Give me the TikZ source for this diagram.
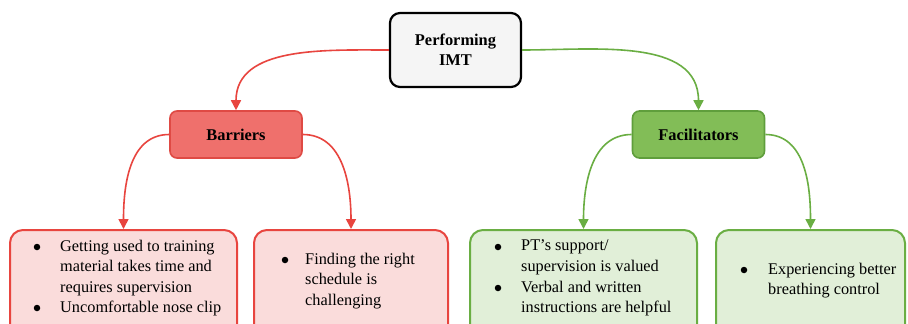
\documentclass[tikz,border=0pt]{standalone}
\usepackage{fontspec}
\setmainfont{Liberation Serif}
\usetikzlibrary{arrows.meta}
\definecolor{redline}{HTML}{E8453F}
\definecolor{redfill}{HTML}{EF706C}
\definecolor{redstroke}{HTML}{DF4A44}
\definecolor{pinkfill}{HTML}{FADCDB}
\definecolor{greenline}{HTML}{6AAE43}
\definecolor{greenfill}{HTML}{82BD57}
\definecolor{greenstroke}{HTML}{5F9E3C}
\definecolor{lgreenfill}{HTML}{E1EFD8}
\definecolor{topfill}{HTML}{F5F5F5}
\tikzset{
  topbox/.style={draw=black, line width=2.2pt, fill=topfill, rounded corners=10pt, minimum width=131pt, minimum height=74pt, inner sep=0pt, align=center, font=\fontsize{16.4}{20}\selectfont\bfseries},
  midbox/.style={line width=1.6pt, rounded corners=7pt, minimum width=132pt, minimum height=47pt, inner sep=0pt, font=\fontsize{16.4}{20}\selectfont\bfseries},
  redmid/.style={midbox, draw=redstroke, fill=redfill},
  greenmid/.style={midbox, draw=greenstroke, fill=greenfill},
  lowbox/.style={line width=2pt, rounded corners=13pt, inner sep=0pt},
  redlow/.style={lowbox, draw=redline, fill=pinkfill},
  greenlow/.style={lowbox, draw=greenline, fill=lgreenfill},
  txt/.style={anchor=north west, align=left, inner sep=0pt, font=\fontsize{16.3}{20.5}\selectfont},
  bul/.style={circle, fill=black, minimum size=6.5pt, inner sep=0pt},
  redarr/.style={draw=redline, line width=1.6pt, -{Triangle[width=10pt,length=10pt]}},
  greenarr/.style={draw=greenline, line width=1.6pt, -{Triangle[width=10pt,length=10pt]}},
}
\begin{document}
\begin{tikzpicture}[x=1pt,y=-1pt]
\useasboundingbox (0,0) rectangle (908,324);
\clip (0,0) rectangle (908,324);
\fill[white] (0,0) rectangle (908,324);
% top
\node[topbox] (top) at (455.5,50) {Performing\\IMT};
\node[redmid] (bar) at (236,134.5) {Barriers};
\node[greenmid] (fac) at (698.5,134.5) {Facilitators};
% bottom boxes
\node[redlow, minimum width=227pt, minimum height=110pt] (b1) at (123.5,285) {};
\node[redlow, minimum width=194pt, minimum height=110pt] (b2) at (351,285) {};
\node[greenlow, minimum width=227pt, minimum height=110pt] (b3) at (583.5,285) {};
\node[greenlow, minimum width=189pt, minimum height=110pt] (b4) at (810.5,285) {};
% texts
\node[txt] (t1a) at (60,239.5) {Getting used to training\\material takes time and\\requires supervision};
\node[bul] (u1a) at (37,247) {};
\node[txt] (t1b) at (60,300.5) {Uncomfortable nose clip};
\node[bul] (u1b) at (37,308) {};
\node[txt] (t2) at (305,252.5) {Finding the right\\schedule is\\challenging};
\node[bul] (u2) at (285,260) {};
\node[txt] (t3a) at (521,239.5) {PT’s support/\\supervision is valued};
\node[bul] (u3a) at (498,247) {};
\node[txt] (t3b) at (521,280.5) {Verbal and written\\instructions are helpful};
\node[bul] (u3b) at (498,288) {};
\node[txt] (t4) at (768,262.5) {Experiencing better\\breathing control};
\node[bul] (u4) at (744,270) {};
% arrows
\draw[redarr] (top.west) to[out=180,in=90] (bar.north);
\draw[greenarr] (top.east) to[out=0,in=90] (fac.north);
\draw[redarr] (bar.west) to[out=180,in=90] (b1.north);
\draw[redarr] (bar.east) to[out=0,in=90] (b2.north);
\draw[greenarr] (fac.west) to[out=180,in=90] (b3.north);
\draw[greenarr] (fac.east) to[out=0,in=90] (b4.north);
\end{tikzpicture}
\end{document}
